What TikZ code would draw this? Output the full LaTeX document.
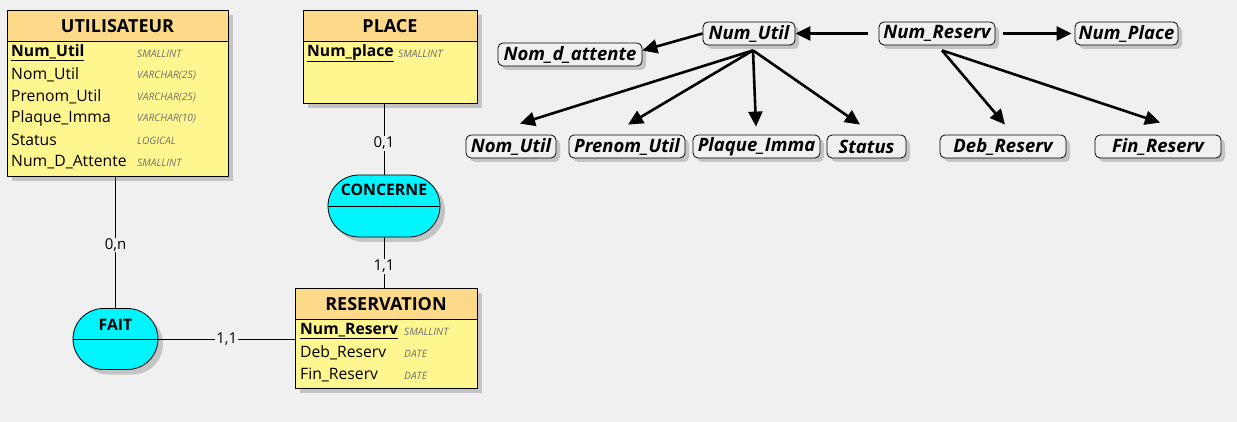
\documentclass[tikz,border=0pt]{standalone}
\usepackage{fontspec}
\setmainfont{Open Sans}
\usetikzlibrary{arrows.meta,shapes.misc,shadows}
\definecolor{bg}{HTML}{F0F0F0}
\definecolor{hdr}{HTML}{FDD98A}
\definecolor{body}{HTML}{FFF68F}
\definecolor{rel}{HTML}{00F5FF}
\definecolor{shd}{HTML}{C4C4C4}
\definecolor{typc}{HTML}{707070}
\tikzset{
  shd/.style={drop shadow={shadow xshift=5pt,shadow yshift=-5pt,fill=shd,opacity=1}},
  ent/.style={draw=black,fill=body,line width=0.8pt,anchor=north west,inner sep=0pt,shd},
  hdrtxt/.style={font=\fontsize{18}{21}\selectfont\bfseries,inner sep=0pt},
  reltxt/.style={font=\fontsize{15.8}{18}\selectfont\bfseries,inner sep=0pt},
  attr/.style={font=\fontsize{15.7}{18}\selectfont,anchor=west,inner sep=0pt},
  typ/.style={font=\fontsize{10.2}{12}\selectfont\itshape,text=typc,anchor=west,inner sep=0pt},
  relshape/.style={rounded rectangle,draw=black,fill=rel,line width=0.8pt,inner sep=0pt,shd},
  card/.style={font=\fontsize{15}{17}\selectfont,fill=bg,inner sep=1pt},
  dep/.style={draw=black,rounded corners=5pt,fill=bg,line width=0.8pt,minimum height=23pt,inner sep=0pt,
    font=\fontsize{18.5}{21}\selectfont\bfseries\itshape,drop shadow={shadow xshift=4pt,shadow yshift=-4pt,fill=shd,opacity=1}},
  arr/.style={line width=2.6pt,-{Triangle[length=15pt,width=14pt]}},
  lnk/.style={line width=0.8pt}
}
\begin{document}
\begin{tikzpicture}[x=1pt,y=-1pt]
\useasboundingbox[fill=bg] (0,0) rectangle (1237,422);

% ---------- UTILISATEUR ----------
\node[ent,minimum width=221pt,minimum height=166pt] (util) at (7,10) {};
\fill[hdr] (7,10) rectangle (228,41);
\draw[lnk] (7,41) -- (228,41);
\draw[lnk] (util.north west) rectangle (util.south east);
\node[hdrtxt] (utilT) at (117.5,26) {UTILISATEUR};
\node[attr] (u1) at (11,53) {\textbf{\underline{Num\_Util}}};
\node[attr] (u2) at (11,75) {Nom\_Util};
\node[attr] (u3) at (11,97) {Prenom\_Util};
\node[attr] (u4) at (11,118) {Plaque\_Imma};
\node[attr] (u5) at (11,140) {Status};
\node[attr] (u6) at (11,162) {Num\_D\_Attente};
\node[typ] (t1) at (137,54) {SMALLINT};
\node[typ] (t2) at (137,76) {VARCHAR(25)};
\node[typ] (t3) at (137,98) {VARCHAR(25)};
\node[typ] (t4) at (137,119) {VARCHAR(10)};
\node[typ] (t5) at (137,141) {LOGICAL};
\node[typ] (t6) at (137,163) {SMALLINT};

% ---------- PLACE ----------
\node[ent,minimum width=174pt,minimum height=93pt] (place) at (303,10) {};
\fill[hdr] (303,10) rectangle (477,41);
\draw[lnk] (303,41) -- (477,41);
\draw[lnk] (place.north west) rectangle (place.south east);
\node[hdrtxt] (placeT) at (390,26) {PLACE};
\node[attr] (p1) at (307,53) {\textbf{\underline{Num\_place}}};
\node[typ] (pt1) at (398,54) {SMALLINT};

% ---------- RESERVATION ----------
\node[ent,minimum width=182pt,minimum height=100pt] (resa) at (295,288) {};
\fill[hdr] (295,288) rectangle (477,319);
\draw[lnk] (295,319) -- (477,319);
\draw[lnk] (resa.north west) rectangle (resa.south east);
\node[hdrtxt] (resaT) at (386,304) {RESERVATION};
\node[attr] (r1) at (300,331) {\textbf{\underline{Num\_Reserv}}};
\node[attr] (r2) at (300,353) {Deb\_Reserv};
\node[attr] (r3) at (300,375) {Fin\_Reserv};
\node[typ] (rt1) at (404,332) {SMALLINT};
\node[typ] (rt2) at (404,354) {DATE};
\node[typ] (rt3) at (404,376) {DATE};

% ---------- relations ----------
\node[relshape,minimum width=112pt,minimum height=62pt] (conc) at (384,206) {};
\draw[lnk] (conc.west) -- (conc.east);
\node[reltxt] (concT) at (384,190) {CONCERNE};

\node[relshape,minimum width=85pt,minimum height=61pt] (fait) at (115.5,339) {};
\draw[lnk] (fait.west) -- (fait.east);
\node[reltxt] (faitT) at (115.5,325) {FAIT};

% ---------- links ----------
\draw[lnk] (place.south -| conc.north) -- node[card,pos=0.56] (c1) {0,1} (conc.north);
\draw[lnk] (conc.south) -- node[card,pos=0.57] (c2) {1,1} (resa.north -| conc.south);
\draw[lnk] (util.south -| fait.north) -- node[card,pos=0.52] (c3) {0,n} (fait.north);
\draw[lnk] (fait.east) -- node[card] (c4) {1,1} (resa.west |- fait.east);

% ---------- dependency graph ----------
\node[dep,minimum width=92pt] (nu) at (749,33.5) {Num\_Util};
\node[dep,minimum width=116pt] (nr) at (937,33.5) {Num\_Reserv};
\node[dep,minimum width=103pt] (np) at (1126.5,33.5) {Num\_Place};
\node[dep,minimum width=144pt] (nda) at (570,54.5) {Nom\_d\_attente};
\node[dep,minimum width=90pt] (nomu) at (511,146.5) {Nom\_Util};
\node[dep,minimum width=116pt] (pren) at (627,146.5) {Prenom\_Util};
\node[dep,minimum width=127pt] (plaq) at (756.5,146.5) {Plaque\_Imma};
\node[dep,minimum width=79pt] (stat) at (866.5,146.5) {Status};
\node[dep,minimum width=126pt] (deb) at (1003,146.5) {Deb\_Reserv};
\node[dep,minimum width=126pt] (fin) at (1158,146.5) {Fin\_Reserv};

\draw[arr,shorten <=11pt] (nr.west) -- (nu.east);
\draw[arr,shorten <=8pt,shorten >=3pt] (nr.east) -- (np.west);
\draw[arr] (nu.west) -- ([yshift=4pt]nda.east);
\draw[arr] ([xshift=4pt,yshift=-5pt]nu.south) -- ([xshift=9pt,yshift=11pt]nomu.north);
\draw[arr] ([xshift=4pt,yshift=-5pt]nu.south) -- ([xshift=1pt,yshift=10pt]pren.north);
\draw[arr] ([xshift=4pt,yshift=-5pt]nu.south) -- ([xshift=-0.5pt,yshift=8pt]plaq.north);
\draw[arr] ([xshift=4pt,yshift=-5pt]nu.south) -- ([xshift=-6.5pt,yshift=10pt]stat.north);
\draw[arr] ([xshift=5pt,yshift=-5pt]nr.south) -- ([xshift=2pt,yshift=10pt]deb.north);
\draw[arr] ([xshift=5pt,yshift=-5pt]nr.south) -- ([xshift=2pt,yshift=12pt]fin.north);
\end{tikzpicture}
\end{document}
